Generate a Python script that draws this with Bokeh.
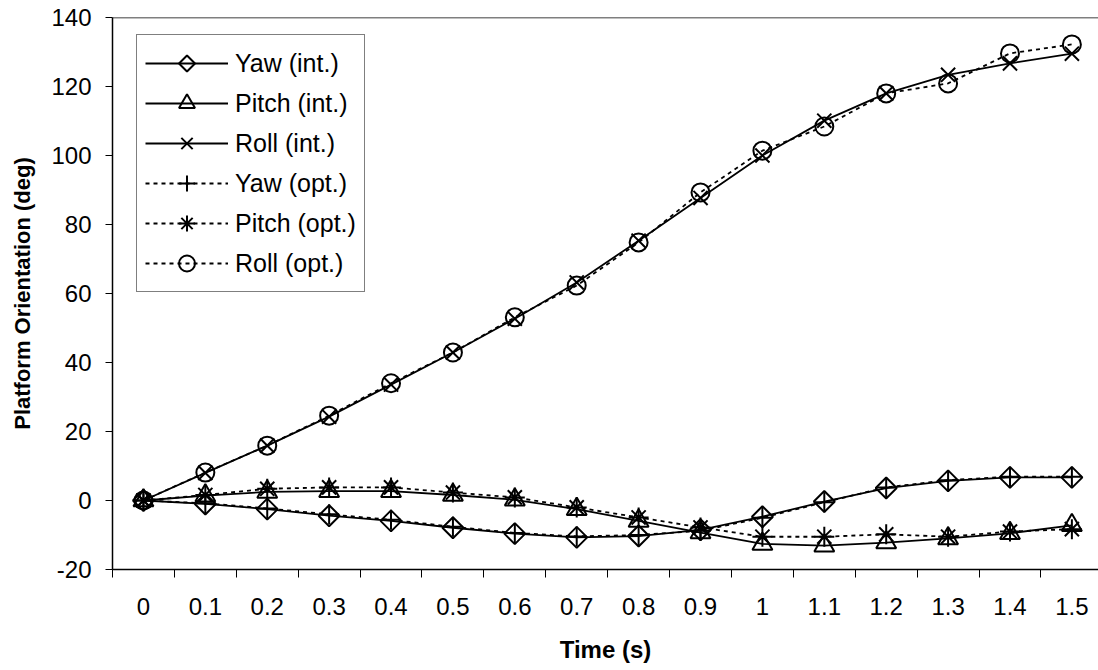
import math
from bokeh.plotting import figure
from bokeh.models import (Range1d, FixedTicker, Legend, LegendItem, Span, ColumnDataSource, CustomJS)
from bokeh.embed import file_html
from bokeh.resources import INLINE

# ---- data ----
time_labels = ["0", "0.1", "0.2", "0.3", "0.4", "0.5", "0.6", "0.7",
               "0.8", "0.9", "1", "1.1", "1.2", "1.3", "1.4", "1.5"]
yaw_int = [0, -1.0, -2.5, -4.4, -5.9, -7.9, -9.6, -10.7, -10.3, -8.5, -4.7, -0.3, 3.6, 5.7, 6.7, 6.7]
pitch_int = [0, 1.4, 2.5, 2.7, 2.7, 1.6, 0.2, -2.5, -5.9, -9.3, -12.6, -13.1, -12.2, -11.0, -9.5, -7.2]
roll_int = [0, 8.0, 15.9, 24.3, 33.6, 42.9, 52.7, 63.2, 75.3, 87.7, 100.0, 110.1, 118.0, 123.4, 126.7, 129.5]
yaw_opt = [0, -0.8, -2.3, -4.0, -5.6, -7.6, -9.4, -10.4, -10.0, -8.8, -5.0, -0.5, 3.8, 5.9, 6.9, 6.9]
pitch_opt = [0, 1.6, 3.4, 3.8, 3.8, 2.3, 0.9, -2.0, -4.9, -7.8, -10.5, -10.5, -9.8, -10.5, -9.0, -8.3]
roll_opt = [0, 8.1, 15.9, 24.6, 34.0, 42.9, 53.1, 62.3, 74.8, 89.3, 101.4, 108.4, 118.0, 120.9, 129.6, 132.2]
y_ticks = [-20, 0, 20, 40, 60, 80, 100, 120, 140]

series = [
    ("Yaw (int.)", yaw_int, "solid", "rdiamond"),
    ("Pitch (int.)", pitch_int, "solid", "triangle"),
    ("Roll (int.)", roll_int, "solid", "x"),
    ("Yaw (opt.)", yaw_opt, "4 4", "cross"),
    ("Pitch (opt.)", pitch_opt, "4 4", "asterisk"),
    ("Roll (opt.)", roll_opt, "4 4", "circle"),
]

FONT = "Liberation Sans"
n = len(time_labels)
xs = list(range(n))

W, H = 1098, 670
FRAME_TOP, FRAME_BOTTOM, FRAME_LEFT = 17, 569, 112
frame_h = FRAME_BOTTOM - FRAME_TOP

p = figure(width=W, height=H, output_backend="svg", toolbar_location=None,
           x_range=Range1d(-0.5, 15.43), y_range=Range1d(-20, 140))
p.min_border_left = FRAME_LEFT
p.min_border_right = 0
p.min_border_top = FRAME_TOP
p.min_border_bottom = H - FRAME_BOTTOM
p.outline_line_color = None
p.xgrid.visible = False
p.ygrid.visible = False
p.background_fill_color = "white"
p.border_fill_color = "white"

# x axis: category boundaries as tick marks, labels at category centres
xa = p.xaxis[0]
xa.ticker = FixedTicker(ticks=xs, minor_ticks=[i - 0.5 for i in range(n + 1)])
xa.major_label_overrides = {i: lab for i, lab in enumerate(time_labels)}
xa.major_tick_line_color = None
xa.major_tick_out = 6
xa.minor_tick_line_color = "black"
xa.minor_tick_out = 8
xa.minor_tick_in = 0
xa.axis_line_color = "black"
xa.axis_line_width = 1.5
xa.major_label_text_font = FONT
xa.major_label_text_font_size = "24px"
xa.major_label_text_color = "black"
xa.major_label_standoff = 20
xa.axis_label = "Time (s)"
xa.axis_label_text_font = FONT
xa.axis_label_text_font_style = "bold"
xa.axis_label_text_font_size = "24px"
xa.axis_label_text_color = "black"
xa.axis_label_standoff = 18

ya = p.yaxis[0]
ya.ticker = FixedTicker(ticks=y_ticks)
ya.major_label_overrides = {t: str(t) for t in y_ticks}
ya.major_tick_out = 7
ya.major_tick_in = 0
ya.minor_tick_line_color = None
ya.major_tick_line_color = "black"
ya.axis_line_color = "black"
ya.axis_line_width = 1.5
ya.major_label_text_font = FONT
ya.major_label_text_font_size = "24px"
ya.major_label_text_color = "black"
ya.major_label_standoff = 14
ya.axis_label = "Platform Orientation (deg)"
ya.axis_label_text_font = FONT
ya.axis_label_text_font_style = "bold"
ya.axis_label_text_font_size = "22px"
ya.axis_label_text_color = "black"
ya.axis_label_standoff = 13

# top border of plot area
p.add_layout(Span(location=140, dimension="width", line_color="black", line_width=1.5))

rdiamond = CustomJS(code="""
export default (args, obj, data) => {
  const {ctx, i, r, visuals} = data
  ctx.moveTo(0, -r)
  ctx.lineTo(r, 0)
  ctx.lineTo(0, r)
  ctx.lineTo(-r, 0)
  ctx.closePath()
  if (visuals.line.apply != null) {
    visuals.line.apply(ctx, i)
  } else if (visuals.line.doit) {
    visuals.line.set_vectorize(ctx, i)
    ctx.stroke()
  }
}
""")

items = []
for label, vals, dash, marker in series:
    src = ColumnDataSource(dict(x=xs, y=vals))
    lr = p.line("x", "y", source=src, line_color="black", line_width=1.8, line_dash=dash)
    kw = {}
    size = 19
    if marker == "rdiamond":
        marker = "@rdiamond"
        size = 21
        kw["defs"] = {"@rdiamond": rdiamond}
    elif marker in ("triangle", "x", "cross", "asterisk"):
        size = 20
    elif marker == "circle":
        size = 18
    sr = p.scatter("x", "y", source=src, marker=marker, size=size,
                   fill_color=None, line_color="black", line_width=2, **kw)
    items.append(LegendItem(label=label, renderers=[lr, sr]))

GLYPH_H, SPACING, PAD = 40, 0, 8
legend_h = 2 * PAD + 6 * GLYPH_H + 5 * SPACING
legend = Legend(items=items, location=(24, frame_h - 19 - legend_h))
legend.label_text_font = FONT
legend.label_text_font_size = "25px"
legend.label_text_color = "black"
legend.glyph_width = 83
legend.glyph_height = GLYPH_H
legend.label_height = GLYPH_H
legend.spacing = SPACING
legend.padding = PAD
legend.margin = 0
legend.label_standoff = 7
legend.border_line_color = "black"
legend.border_line_width = 1
legend.background_fill_color = "white"
legend.background_fill_alpha = 1
p.add_layout(legend, "center")

open("out.html", "w").write(file_html(p, INLINE))
